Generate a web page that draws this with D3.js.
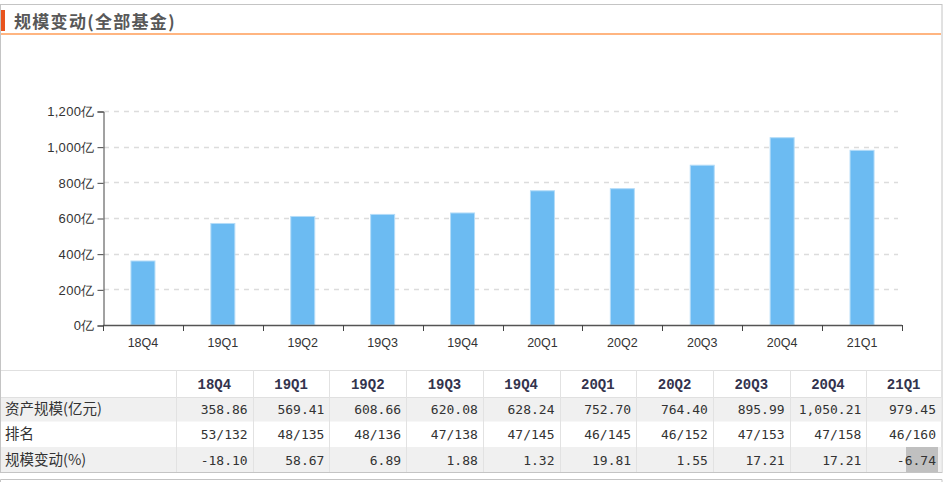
<!DOCTYPE html>
<html><head><meta charset="utf-8">
<script src="https://cdn.jsdelivr.net/npm/d3@7"></script>
<style>
html,body{margin:0;padding:0;background:#fff;}
svg{display:block;}
</style></head>
<body>
<svg id="chart" width="950" height="482"></svg>
<script>
const categories = ["18Q4","19Q1","19Q2","19Q3","19Q4","20Q1","20Q2","20Q3","20Q4","21Q1"];
const assetSize = [358.86,569.41,608.66,620.08,628.24,752.70,764.40,895.99,1050.21,979.45];
const ranks = ["53/132","48/135","48/136","47/138","47/145","46/145","46/152","47/153","47/158","46/160"];
const changes = [-18.10,58.67,6.89,1.88,1.32,19.81,1.55,17.21,17.21,-6.74];
const yTicks = [0,200,400,600,800,1000,1200];
const rowLabels = ["资产规模(亿元)","排名","规模变动(%)"];
const title = "规模变动(全部基金)";

const svg = d3.select("#chart");
svg.append("rect").attr("width",950).attr("height",482).attr("fill","#fff");

// outer frame
svg.append("rect").attr("x",0.5).attr("y",4.5).attr("width",941.5).attr("height",468)
  .attr("fill","none").attr("stroke","#c4c4c4");
svg.append("path").attr("d","M0.5,482V479.5H942V482").attr("fill","none").attr("stroke","#c4c4c4");

// title
svg.append("rect").attr("x",1).attr("y",10).attr("width",4).attr("height",21).attr("fill","#e8541e");
svg.append("text").attr("x",14).attr("y",28).text(title)
  .attr("font-family","'Noto Sans CJK SC',sans-serif").attr("font-size",17).attr("font-weight","bold")
  .attr("letter-spacing",1.3).attr("fill","#585858");
svg.append("rect").attr("x",1).attr("y",33).attr("width",940).attr("height",2).attr("fill","#ffb581");

// chart
const x = d3.scaleBand().domain(categories).range([103,902]).padding(0);
const y = d3.scaleLinear().domain([0,1200]).range([325,111]);
const barW = 25;

// grid
svg.append("g").selectAll("line").data(yTicks.filter(d=>d>0)).join("line")
  .attr("x1",104).attr("x2",898).attr("y1",d=>Math.round(y(d))+0.5).attr("y2",d=>Math.round(y(d))+0.5)
  .attr("stroke","#dcdcdc").attr("stroke-width",1.5).attr("stroke-dasharray","5,5");

// bars
svg.append("g").selectAll("rect").data(categories).join("rect")
  .attr("x",(d)=>x(d)+x.bandwidth()/2-barW/2+0.5)
  .attr("y",(d,i)=>y(assetSize[i]))
  .attr("width",barW-1)
  .attr("height",(d,i)=>325-y(assetSize[i]))
  .attr("fill","#6cbbf2").attr("stroke","#b4dcf8").attr("stroke-width",1);

// y axis
const yAxis = d3.axisLeft(y).tickValues(yTicks).tickSize(6).tickPadding(3)
  .tickFormat(d=>d3.format(",")(d)+"亿");
const gy = svg.append("g").attr("transform","translate(103.5,0.5)").call(yAxis);
gy.selectAll("path,line").attr("stroke","#444");
gy.selectAll("text").attr("font-family","'Liberation Sans',Arial,sans-serif").attr("font-size",13)
  .attr("letter-spacing",0.3).attr("fill","#333");

// x axis
const gx = svg.append("g");
gx.append("line").attr("x1",103).attr("x2",902).attr("y1",325.5).attr("y2",325.5)
  .attr("stroke","#555").attr("stroke-width",1.5);
const bounds = categories.map(c=>x(c)).concat([x.range()[1]]);
gx.selectAll("line.t").data(bounds).join("line").attr("class","t")
  .attr("x1",d=>Math.round(d)+0.5).attr("x2",d=>Math.round(d)+0.5).attr("y1",325).attr("y2",331)
  .attr("stroke","#444");
gx.selectAll("text").data(categories).join("text")
  .attr("x",d=>x(d)+x.bandwidth()/2).attr("y",347).attr("text-anchor","middle")
  .attr("font-family","'Liberation Sans',Arial,sans-serif").attr("font-size",12.5).attr("fill","#333")
  .text(d=>d);

// table
const cx = d3.scaleBand().domain(categories).range([176,943]);
const rowY = [370,397,421.5,447,472];
const tbl = svg.append("g");
// row backgrounds
tbl.append("rect").attr("x",1).attr("y",rowY[1]).attr("width",940.5).attr("height",rowY[2]-rowY[1]).attr("fill","#f0f0f0");
tbl.append("rect").attr("x",1).attr("y",rowY[3]).attr("width",940.5).attr("height",rowY[4]-rowY[3]).attr("fill","#f0f0f0");
// highlight on last cell
tbl.append("rect").attr("x",906).attr("y",rowY[3]).attr("width",32).attr("height",rowY[4]-rowY[3]).attr("fill","#c0c0c0");
// horizontal lines
tbl.append("line").attr("x1",1).attr("x2",941.5).attr("y1",rowY[0]+0.5).attr("y2",rowY[0]+0.5).attr("stroke","#e0e0e0");
tbl.append("line").attr("x1",1).attr("x2",941.5).attr("y1",rowY[1]+0.5).attr("y2",rowY[1]+0.5).attr("stroke","#e0e0e0");
// vertical lines
tbl.selectAll("line.v").data(categories).join("line").attr("class","v")
  .attr("x1",d=>Math.round(cx(d))+0.5).attr("x2",d=>Math.round(cx(d))+0.5)
  .attr("y1",rowY[0]).attr("y2",rowY[4]).attr("stroke","#e2e2e2");
// header
tbl.selectAll("text.h").data(categories).join("text").attr("class","h")
  .attr("x",d=>cx(d)+Math.min(cx.bandwidth(),941-cx(d))/2).attr("y",389).attr("text-anchor","middle")
  .attr("font-family","'Liberation Mono','Courier New',monospace").attr("font-weight","bold")
  .attr("font-size",14).attr("fill","#33334d").text(d=>d);
// row labels
tbl.selectAll("text.r").data(rowLabels).join("text").attr("class","r")
  .attr("x",5).attr("y",(d,i)=>(rowY[i+1]+rowY[i+2])/2+5)
  .attr("font-family","'Noto Sans CJK SC',sans-serif").attr("font-size",14.5).attr("fill","#333").text(d=>d);
// values
const rows = [assetSize.map(v=>d3.format(",.2f")(v)), ranks, changes.map(v=>v.toFixed(2))];
rows.forEach((r,ri)=>{
  tbl.append("g").selectAll("text").data(r).join("text")
    .attr("x",(d,i)=>Math.min(cx(categories[i])+cx.bandwidth(),941)-5)
    .attr("y",(rowY[ri+1]+rowY[ri+2])/2+5)
    .attr("text-anchor","end")
    .attr("font-family","'DejaVu Sans Mono',monospace").attr("font-size",13).attr("fill","#333")
    .text(d=>d);
});
</script>
</body></html>
